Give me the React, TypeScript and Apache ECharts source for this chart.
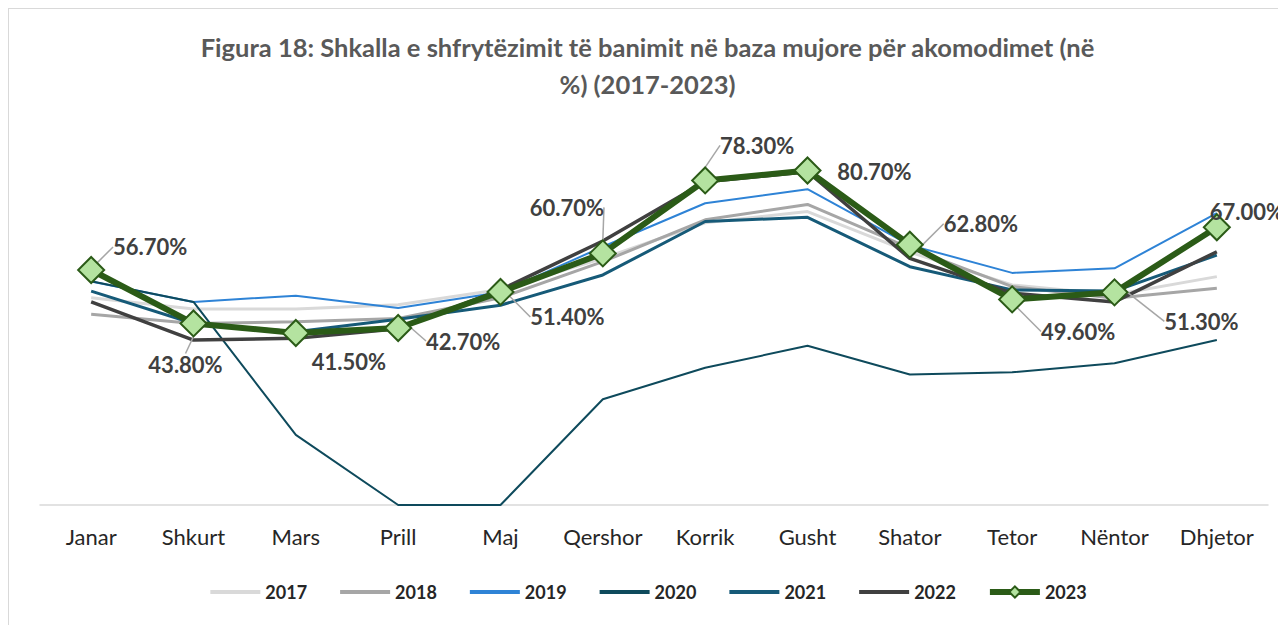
import React, { useEffect, useRef } from "react";
import * as echarts from "echarts";

const months = ["Janar", "Shkurt", "Mars", "Prill", "Maj", "Qershor", "Korrik", "Gusht", "Shator", "Tetor", "Nëntor", "Dhjetor"];
const y2017 = [50.0, 47.3, 47.3, 48.3, 52.0, 59.5, 68.1, 70.8, 61.0, 53.1, 50.7, 55.1];
const y2018 = [46.0, 43.8, 44.2, 45.0, 50.0, 58.7, 68.8, 72.5, 62.0, 52.7, 49.9, 52.3];
const y2019 = [53.9, 49.0, 50.5, 47.5, 51.3, 62.3, 72.8, 76.2, 62.7, 56.0, 57.1, 70.4];
const y2020 = [54.0, 49.0, 16.9, 0, 0, 25.5, 33.1, 38.4, 31.5, 32.0, 34.2, 39.8];
const y2021 = [51.6, 43.8, 41.8, 44.8, 48.2, 55.5, 68.4, 69.4, 57.5, 51.9, 51.6, 60.3];
const y2022 = [49.0, 39.8, 40.2, 42.5, 51.9, 63.7, 78.0, 80.4, 59.5, 51.1, 49.0, 61.1];
const y2023 = [56.7, 43.8, 41.5, 42.7, 51.4, 60.7, 78.3, 80.7, 62.8, 49.6, 51.3, 67.0];
const years = ["2017", "2018", "2019", "2020", "2021", "2022", "2023"];
const titleText = "Figura 18: Shkalla e shfrytëzimit të banimit në baza mujore për akomodimet (në\n%) (2017-2023)";

// label layout (offsets from the point, px) and leader visibility for 2023
const labelDx = [59, -8, 53, 65, 67, -36, 52, 67, 71, 66, 87, 30];
const labelDy = [-23, 41, 29, 13, 25, -46, -35, 1, -21, 32, 29, -16];
const leader = [true, true, false, true, true, true, true, false, true, true, true, false];

const FONT = "Lato, 'Open Sans', sans-serif";

export default function App() {
  const ref = useRef<HTMLDivElement>(null);
  useEffect(() => {
    if (!ref.current) return;
    const chart = echarts.init(ref.current, null, { renderer: "svg" });
    const W = chart.getWidth();
    const thin = (name: string, data: number[], color: string, width: number) => ({
      name,
      type: "line",
      data,
      symbol: "none",
      lineStyle: { color, width },
      itemStyle: { color },
      z: 2,
    });
    chart.setOption({
      animation: false,
      textStyle: { fontFamily: FONT },
      title: {
        text: titleText,
        left: W / 2,
        top: 19,
        padding: 0,
        textAlign: "center",
        textStyle: { fontFamily: FONT, fontSize: 25.5, fontWeight: "bold", color: "#595959", lineHeight: 37 },
      },
      grid: { left: 31, right: 18, top: 81.5, bottom: 120 },
      xAxis: {
        type: "category",
        data: months,
        boundaryGap: true,
        axisLine: { show: true, lineStyle: { color: "#d9d9d9", width: 1.5 } },
        axisTick: { show: false },
        axisLabel: { interval: 0, fontFamily: FONT, fontSize: 22, color: "#262626", margin: 20 },
      },
      yAxis: {
        type: "value",
        min: 0,
        max: 100,
        show: false,
        splitLine: { show: false },
      },
      legend: {
        top: 569,
        left: "center",
        itemWidth: 50,
        itemHeight: 14,
        itemGap: 31,
        data: years.map((y) =>
          y === "2023"
            ? { name: y, lineStyle: { width: 6 } }
            : { name: y, itemStyle: { opacity: 0 }, lineStyle: { width: 4 } }
        ),
        textStyle: { fontFamily: FONT, fontSize: 18, fontWeight: "bold", color: "#262626" },
      },
      series: [
        thin("2017", y2017, "#d9d9d9", 3),
        thin("2018", y2018, "#a6a6a6", 3),
        thin("2019", y2019, "#2e83d6", 2),
        thin("2020", y2020, "#0e4a5c", 2),
        thin("2021", y2021, "#165a78", 3),
        thin("2022", y2022, "#404040", 3.5),
        {
          name: "2023",
          type: "line",
          z: 5,
          data: y2023.map((v, i) => ({ value: v, labelLine: { show: leader[i] } })),
          symbol: "diamond",
          symbolSize: 26,
          lineStyle: { color: "#2b5b17", width: 6 },
          itemStyle: { color: "#b4e3a0", borderColor: "#2b5b17", borderWidth: 2 },
          label: {
            show: true,
            position: "top",
            formatter: (p: any) => p.value.toFixed(2) + "%",
            fontFamily: FONT,
            fontSize: 22,
            fontWeight: "bold",
            color: "#404040",
          },
          labelLine: { show: true, lineStyle: { color: "#a6a6a6", width: 1.5 } },
          labelLayout: (p: any) => {
            const i = p.dataIndex;
            const cx = p.rect.x + p.rect.width / 2;
            const cy = p.rect.y + p.rect.height / 2;
            return { x: cx + labelDx[i], y: cy + labelDy[i], align: "center", verticalAlign: "middle" };
          },
        },
      ],
    });
    return () => chart.dispose();
  }, []);
  return (
    <div
      ref={ref}
      style={{
        width: 1278,
        height: 617,
        boxSizing: "border-box",
        borderTop: "1px solid #d9d9d9",
        borderLeft: "1px solid #d9d9d9",
      }}
    />
  );
}
